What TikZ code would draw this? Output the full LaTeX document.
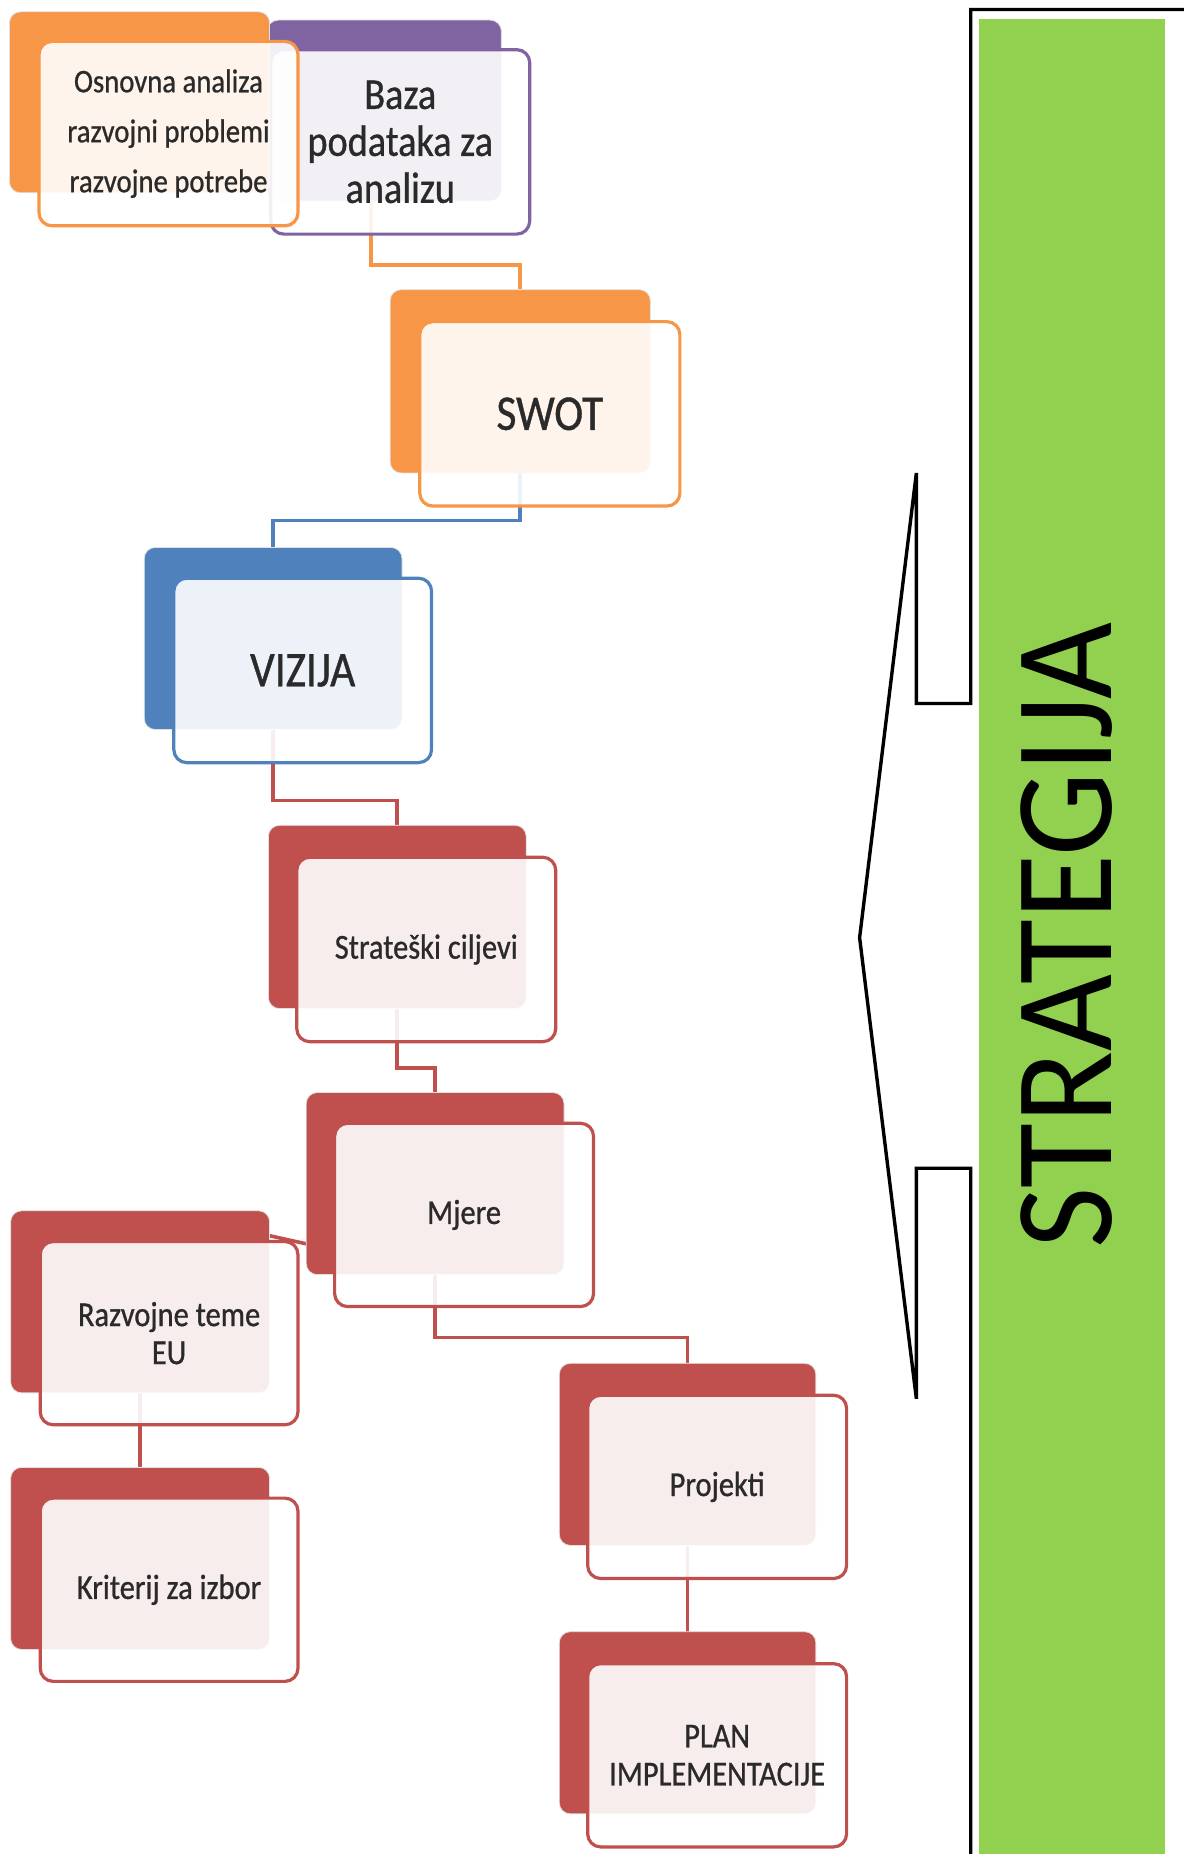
\documentclass[tikz,border=0pt]{standalone}
\usepackage{fontspec}
\setmainfont{Carlito}
\newfontfamily\boxfont[FakeStretch=0.87,FakeBold=0.8]{Carlito}
\newfontfamily\stratfont[FakeStretch=0.95]{Carlito}
\usetikzlibrary{fit}
\definecolor{cOr}{HTML}{F79646}
\definecolor{cPu}{HTML}{8064A2}
\definecolor{cBl}{HTML}{4F81BD}
\definecolor{cRe}{HTML}{C0504D}
\definecolor{cGr}{HTML}{92D050}
\definecolor{cTx}{HTML}{2A2A2A}
\begin{document}
\begin{tikzpicture}[x=1.1828pt,y=-1.1828pt,
  bk/.style={rounded corners=11pt, inner sep=0pt, draw=black!12, line width=0.8pt},
  fr/.style={rounded corners=13pt, inner sep=0pt, fill=white, fill opacity=0.9, line width=3.2pt},
  conn/.style={line width=3.6pt},
  txt/.style={align=center, text=cTx, font=\boxfont\fontsize{35}{38}\selectfont},
  big/.style={align=center, text=cTx, font=\boxfont\fontsize{50}{52}\selectfont}]
\useasboundingbox (0,0) rectangle (1001,1568);

% ---------- anchor boxes for the connectors (drawn first, behind) ----------
\coordinate (bazC) at (314,170);
\node[fit={(330,245)(550,400)}, inner sep=0pt] (swotB0) {};
\node[fit={(122,463)(340,617)}, inner sep=0pt] (vizB0) {};
\node[fit={(227,698)(445,853)}, inner sep=0pt] (strB0) {};
\node[fit={(259,924)(477,1078)}, inner sep=0pt] (mjB0) {};
\node[fit={(9,1024)(228,1178)}, inner sep=0pt] (razB0) {};
\node[fit={(9,1241)(228,1395)}, inner sep=0pt] (kriB0) {};
\node[fit={(473,1153)(690,1307)}, inner sep=0pt] (proB0) {};
\node[fit={(473,1380)(690,1534)}, inner sep=0pt] (plaB0) {};

\draw[conn, draw=cOr] (bazC) -- ++(0,54) -| (swotB0.north);
\draw[conn, draw=cBl] (swotB0.south) -- ++(0,40) -| (vizB0.north);
\draw[conn, draw=cRe] (vizB0.south) -- ++(0,60) -| (strB0.north);
\draw[conn, draw=cRe] (strB0.south) -- ++(0,50) -| (mjB0.north);
\draw[conn, draw=cRe] (mjB0.south) -- ++(0,53) -| (proB0.north);
\draw[conn, draw=cRe] (proB0.south) -- (plaB0.north);
\draw[conn, draw=cRe] (razB0.south) -- (kriB0.north);
\draw[conn, draw=cRe] (razB0.27) -- (mjB0.205);

% ---------- Baza ----------
\node[bk, fill=cPu, fit={(226,17)(424,170)}] (bazB) {};
\node[fr, draw=cPu, fit={(229,42)(448,198)}] (bazF) {};
\node[align=center, text=cTx, font=\boxfont\fontsize{44}{47}\selectfont] (bazT) at (bazF.center) {Baza\\podataka za\\analizu};

% ---------- Osnovna ----------
\node[bk, fill=cOr, fit={(8,10)(228,163)}] (osnB) {};
\node[fr, draw=cOr, fit={(33,35)(252,191)}] (osnF) {};
\node[align=center, text=cTx, font=\boxfont\fontsize{33}{50}\selectfont] (osnT) at (osnF.center) {Osnovna analiza\\razvojni problemi\\razvojne potrebe};

% ---------- SWOT ----------
\node[bk, fill=cOr, fit={(330,245)(550,400)}] (swotB) {};
\node[fr, draw=cOr, fit={(355,272)(575,428)}] (swotF) {};
\node[big] (swotT) at (swotF.center) {SWOT};

% ---------- VIZIJA ----------
\node[bk, fill=cBl, fit={(122,463)(340,617)}] (vizB) {};
\node[fr, draw=cBl, fit={(147,489)(365,645)}] (vizF) {};
\node[big] (vizT) at (vizF.center) {VIZIJA};

% ---------- Strateski ciljevi ----------
\node[bk, fill=cRe, fit={(227,698)(445,853)}] (strB) {};
\node[fr, draw=cRe, fit={(251,725)(470,881)}] (strF) {};
\node[txt] (strT) at (strF.center) {Strateški ciljevi};

% ---------- Mjere ----------
\node[bk, fill=cRe, fit={(259,924)(477,1078)}] (mjB) {};
\node[fr, draw=cRe, fit={(283,950)(502,1105)}] (mjF) {};
\node[txt] (mjT) at (mjF.center) {Mjere};

% ---------- Razvojne teme EU ----------
\node[bk, fill=cRe, fit={(9,1024)(228,1178)}] (razB) {};
\node[fr, draw=cRe, fit={(34,1050)(252,1205)}] (razF) {};
\node[txt] (razT) at (razF.center) {Razvojne teme\\EU};

% ---------- Kriterij za izbor ----------
\node[bk, fill=cRe, fit={(9,1241)(228,1395)}] (kriB) {};
\node[fr, draw=cRe, fit={(34,1267)(252,1422)}] (kriF) {};
\node[txt] (kriT) at (kriF.center) {Kriterij za izbor};

% ---------- Projekti ----------
\node[bk, fill=cRe, fit={(473,1153)(690,1307)}] (proB) {};
\node[fr, draw=cRe, fit={(497,1180)(716,1335)}] (proF) {};
\node[txt] (proT) at (proF.center) {Projekti};

% ---------- PLAN IMPLEMENTACIJE ----------
\node[bk, fill=cRe, fit={(473,1380)(690,1534)}] (plaB) {};
\node[fr, draw=cRe, fit={(497,1407)(716,1562)}] (plaF) {};
\node[txt] (plaT) at (plaF.center) {PLAN\\IMPLEMENTACIJE};

% ---------- STRATEGIJA panel ----------
\fill[cGr] (828,16) rectangle (985,1580);
\draw[line width=3.4pt, line join=miter]
  (1010,8) -- (821,8) -- (821,595) -- (775,595) -- (775,400) -- (727,793)
  -- (775,1183) -- (775,988) -- (821,988) -- (821,1580);
\node[rotate=90, inner sep=0pt, text=black, font=\stratfont\fontsize{140}{140}\selectfont] (strat) at (902,791) {STRATEGIJA};
\end{tikzpicture}
\end{document}
